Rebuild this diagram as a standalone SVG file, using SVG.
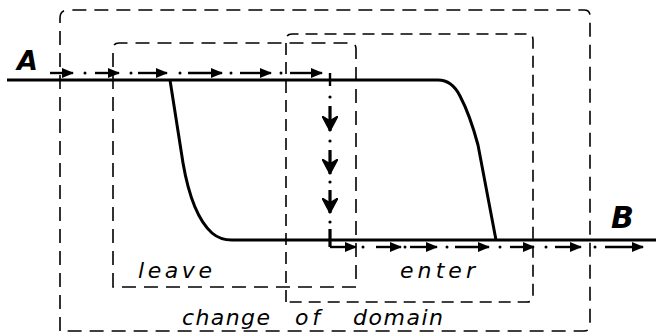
<svg xmlns="http://www.w3.org/2000/svg" width="658" height="333" viewBox="0 0 658 333">
<style>
.box{fill:none;stroke:#000;stroke-width:1.6;stroke-dasharray:14 8}
.leave{fill:none;stroke:#000;stroke-width:1.6;stroke-dasharray:14 8}
.enter{fill:none;stroke:#000;stroke-width:1.6;stroke-dasharray:12 7}
.curve{fill:none;stroke:#000;stroke-width:3}
.flow{fill:none;stroke:#000;stroke-width:2.4}
.down{fill:none;stroke:#000;stroke-width:3.2}
.lbl{font-family:"DejaVu Sans",sans-serif;font-style:oblique;fill:#000;font-size:22px}
.big{font-family:"DejaVu Sans",sans-serif;font-style:oblique;font-weight:bold;fill:#000}
</style>
<defs>
<marker id="ah" viewBox="0 0 12 10" refX="11" refY="5" markerWidth="12" markerHeight="10" markerUnits="userSpaceOnUse" orient="auto">
<path d="M0,0 L12,5 L0,10 Z" fill="#000"/>
</marker>
<marker id="fat" viewBox="0 0 16 16" refX="15" refY="8" markerWidth="16" markerHeight="16" markerUnits="userSpaceOnUse" orient="auto">
<path d="M0,0 L15,8 L0,16 L5,8 Z" fill="#000" stroke="#000" stroke-width="1.5" stroke-linejoin="round"/>
</marker>
</defs>
<g id="change-of-domain">
<path class="box" d="M60,331 V18 Q60,10 68,10 H584 Q590,10 590,16 V325 Q590,331 584,331 Z"/>
<text class="lbl" x="182" y="325" textLength="88" lengthAdjust="spacing">change</text>
<text class="lbl" x="295" y="325" textLength="25" lengthAdjust="spacing">of</text>
<text class="lbl" x="353" y="325" textLength="90" lengthAdjust="spacing">domain</text>
</g>
<g id="leave">
<path class="leave" d="M113,287 V49 Q113,43 119,43 H350 Q356,43 356,49 V287 Z"/>
<text class="lbl" x="138" y="278" textLength="74" lengthAdjust="spacing">leave</text>
</g>
<g id="enter">
<path class="enter" d="M286,302 V40 Q286,34 292,34 H528 Q533,34 533,40 V296 Q533,302 527,302 Z"/>
<text class="lbl" x="400" y="278" textLength="75" lengthAdjust="spacing">enter</text>
</g>
<g id="A">
<text class="big" x="17" y="70" font-size="27">A</text>
</g>
<g id="B">
<text class="big" x="611" y="228" font-size="30">B</text>
</g>
<g id="curves">
<path class="curve" d="M7,80 H438 Q452,80 460,96 Q470,115 478,145 L496,240"/>
<path class="curve" d="M170,80 L183,163 Q192,215 212,233 Q220,240 232,240 H656"/>
</g>
<g id="connectors">
<g class="flow">
<line x1="50" y1="73" x2="73" y2="73" marker-end="url(#ah)"/>
<line x1="95" y1="73" x2="119" y2="73" marker-end="url(#ah)"/>
<line x1="138" y1="73" x2="167" y2="73" marker-end="url(#ah)"/>
<line x1="188" y1="73" x2="222" y2="73" marker-end="url(#ah)"/>
<line x1="240" y1="73" x2="271" y2="73" marker-end="url(#ah)"/>
<line x1="290" y1="73" x2="322" y2="73" marker-end="url(#ah)"/>
<line x1="330" y1="73" x2="330" y2="86"/>
<line x1="330" y1="247" x2="356" y2="247" marker-end="url(#ah)"/>
<line x1="376" y1="247" x2="401" y2="247" marker-end="url(#ah)"/>
<line x1="410" y1="247" x2="437" y2="247" marker-end="url(#ah)"/>
<line x1="455" y1="247" x2="489" y2="247" marker-end="url(#ah)"/>
<line x1="510" y1="247" x2="534" y2="247" marker-end="url(#ah)"/>
<line x1="555" y1="247" x2="581" y2="247" marker-end="url(#ah)"/>
<line x1="605" y1="247" x2="643" y2="247" marker-end="url(#ah)"/>
</g>
<g class="down">
<line x1="330" y1="106" x2="330" y2="131" marker-end="url(#fat)"/>
<line x1="330" y1="150" x2="330" y2="174" marker-end="url(#fat)"/>
<line x1="330" y1="190" x2="330" y2="213" marker-end="url(#fat)"/>
<line x1="330" y1="229" x2="330" y2="247"/>
</g>
<g fill="#000">
<circle cx="85" cy="73" r="1.5"/><circle cx="131" cy="73" r="1.5"/><circle cx="180" cy="73" r="1.5"/>
<circle cx="231" cy="73" r="1.5"/><circle cx="281" cy="73" r="1.5"/>
<circle cx="330" cy="97" r="1.6"/><circle cx="330" cy="141" r="1.6"/><circle cx="330" cy="182" r="1.6"/><circle cx="330" cy="222" r="1.6"/>
<circle cx="363" cy="247" r="1.5"/><circle cx="405" cy="247" r="1.5"/><circle cx="447" cy="247" r="1.5"/>
<circle cx="500" cy="247" r="1.5"/><circle cx="546" cy="247" r="1.5"/><circle cx="595" cy="247" r="1.5"/>
</g>
</g>
</svg>
